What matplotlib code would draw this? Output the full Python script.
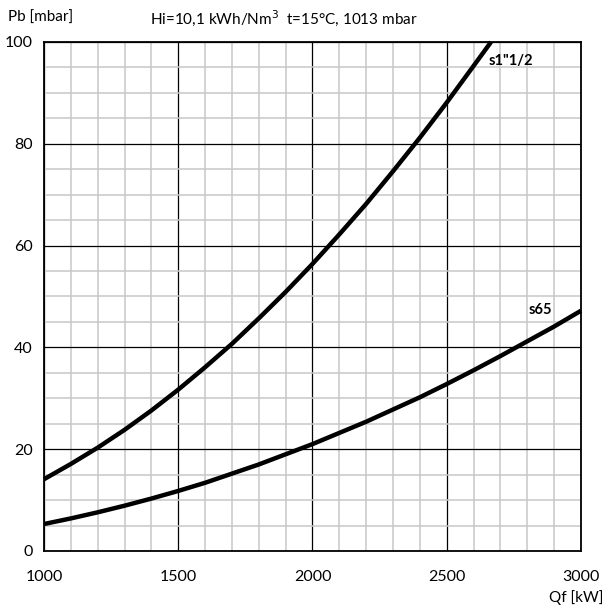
import matplotlib.pyplot as plt
from matplotlib.ticker import MultipleLocator

# values
qf_s1 = [1000, 1100, 1200, 1300, 1400, 1500, 1600, 1700, 1800, 1900,
         2000, 2100, 2200, 2300, 2400, 2500, 2600, 2665]
pb_s1 = [14.1, 17.1, 20.3, 23.8, 27.6, 31.7, 36.1, 40.7, 45.7, 50.9,
         56.4, 62.2, 68.2, 74.6, 81.2, 88.1, 95.3, 100.0]

qf_s65 = [1000, 1100, 1200, 1300, 1400, 1500, 1600, 1700, 1800, 1900, 2000,
          2100, 2200, 2300, 2400, 2500, 2600, 2700, 2800, 2900, 3000]
pb_s65 = [5.3, 6.4, 7.6, 8.9, 10.3, 11.8, 13.4, 15.2, 17.0, 19.0, 21.0,
          23.2, 25.4, 27.8, 30.2, 32.8, 35.5, 38.3, 41.2, 44.1, 47.2]

x_ticks = [1000, 1500, 2000, 2500, 3000]
y_ticks = [0, 20, 40, 60, 80, 100]

plt.rcParams['font.family'] = ['Lato', 'DejaVu Sans']

fig = plt.figure(figsize=(6.06, 6.11), dpi=100)
ax = fig.add_axes([0.0726, 0.0982, 0.8861, 0.8331])

ax.set_xlim(1000, 3000)
ax.set_ylim(0, 100)
ax.set_xticks(x_ticks)
ax.set_yticks(y_ticks)
ax.xaxis.set_minor_locator(MultipleLocator(100))
ax.yaxis.set_minor_locator(MultipleLocator(5))
ax.grid(which='minor', color='#c8c8c8', linewidth=1.1)
ax.grid(which='major', color='black', linewidth=0.9)
ax.set_axisbelow(True)
ax.tick_params(which='both', length=0, labelsize=11.5)
ax.tick_params(axis='x', pad=14)
ax.tick_params(axis='y', pad=8)
for s in ax.spines.values():
    s.set_linewidth(1.3)

ax.plot(qf_s1, pb_s1, color='black', linewidth=3.2, solid_capstyle='butt', clip_on=False)
ax.plot(qf_s65, pb_s65, color='black', linewidth=3.2, solid_capstyle='butt', clip_on=False)

ax.text(2657, 96.3, 's1"1/2', fontsize=10.5, fontweight='bold', va='center', ha='left')
ax.text(2804, 47.3, 's65', fontsize=10.5, fontweight='bold', va='center', ha='left')

fig.text(8 / 606, 1 - 18 / 611, 'Pb [mbar]', fontsize=11, va='center', ha='left')
fig.text(150 / 606, 1 - 18 / 611, 'Hi=10,1 kWh/Nm$^3$  t=15°C, 1013 mbar',
         fontsize=11, va='center', ha='left')
fig.text(603 / 606, 1 - 598 / 611, 'Qf [kW]', fontsize=11, va='center', ha='right')

fig.savefig('out.png', dpi=100)
